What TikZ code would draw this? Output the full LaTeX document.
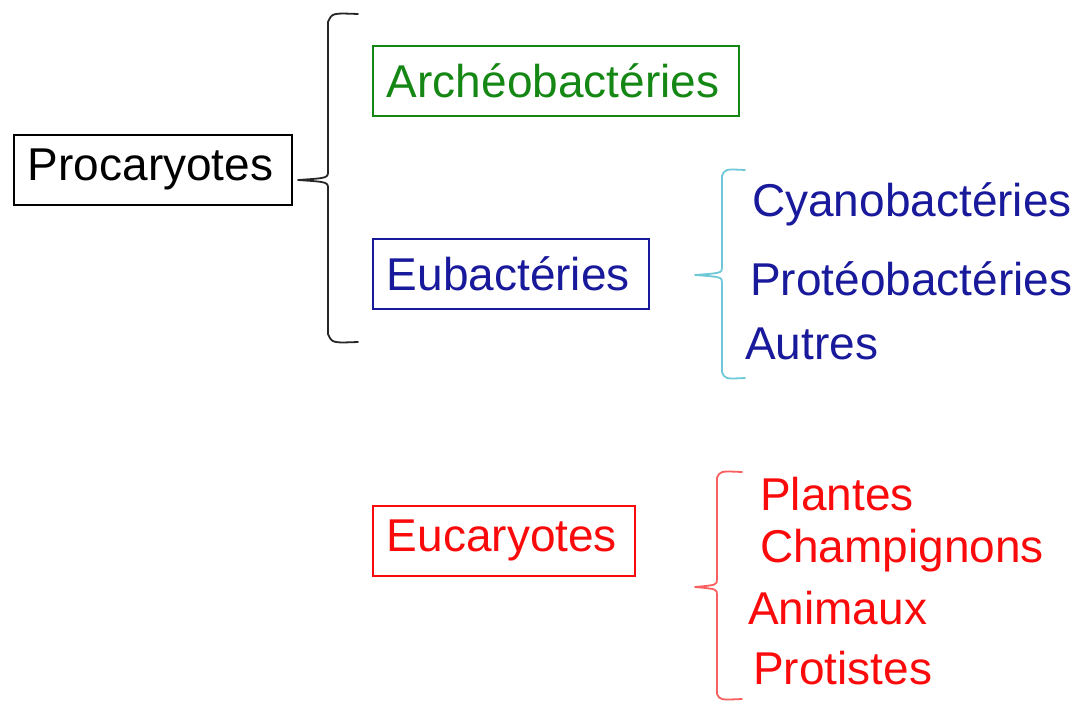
\documentclass[tikz,border=0pt]{standalone}
\usepackage{fontspec}
\setmainfont{Liberation Sans}
\definecolor{grn}{RGB}{20,135,20}
\definecolor{navy}{RGB}{25,25,155}
\definecolor{cyanb}{RGB}{110,200,215}
\definecolor{redt}{RGB}{250,10,10}
\definecolor{redb}{RGB}{250,95,95}
\tikzset{
  box/.style={draw, line width=1.8pt, minimum height=70pt, inner xsep=14pt, align=left, anchor=north west, font=\fontsize{46}{50}\selectfont},
  lbl/.style={anchor=west, inner sep=0pt, font=\fontsize{46}{50}\selectfont},
  brace/.style={line width=1.8pt, line cap=round, line join=round}
}
\begin{document}
\begin{tikzpicture}[x=1pt,y=-1pt]
\useasboundingbox (0,0) rectangle (1080,702);
\node[box, text width=250pt] (pro) at (13,134) {Procaryotes};
\node[box, grn, text width=338pt] (arc) at (372,45) {Archéobactéries};
\node[box, navy, text width=248pt] (eub) at (372,238) {Eubactéries};
\node[box, redt, text width=234pt] (euc) at (372,505) {Eucaryotes};
\node[lbl, navy] (cya) at (752,204) {Cyanobactéries};
\node[lbl, navy] (prt) at (750,279) {Protéobactéries};
\node[lbl, navy] (aut) at (745,344) {Autres};
\node[lbl, redt] (pla) at (760,494) {Plantes};
\node[lbl, redt] (cha) at (760,551) {Champignons};
\node[lbl, redt] (ani) at (748,608) {Animaux};
\node[lbl, redt] (pts) at (753,668) {Protistes};
% braces
\coordinate (b1) at (298,180);
\coordinate (b2) at (695,275);
\coordinate (b3) at (695,587);
\draw[brace, black!85] (358,14) .. controls (332,13) .. (328,22) -- (328,171) .. controls (328,178) .. (b1) .. controls (328,182) .. (328,189) -- (328,334) .. controls (332,343) .. (358,342);
\draw[brace, cyanb] (745,170) .. controls (725,169) .. (722,176) -- (722,267) .. controls (722,273) .. (b2) .. controls (722,277) .. (722,283) -- (722,372) .. controls (725,379) .. (745,378);
\draw[brace, redb] (742,472) .. controls (720,471) .. (717,478) -- (717,579) .. controls (717,585) .. (b3) .. controls (717,589) .. (717,595) -- (717,694) .. controls (720,700) .. (742,699);
\end{tikzpicture}
\end{document}
